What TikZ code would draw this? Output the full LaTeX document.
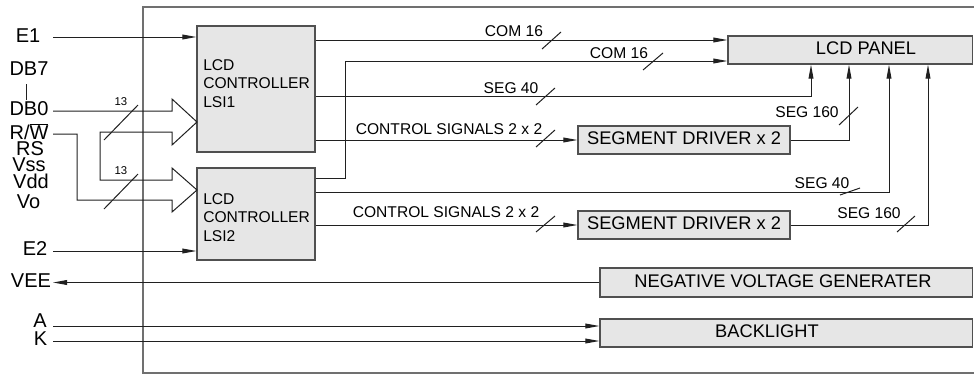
\documentclass[tikz,border=0pt]{standalone}
\usepackage{fontspec}
\setmainfont{Liberation Sans}
\usetikzlibrary{arrows.meta}
\definecolor{boxfill}{HTML}{E6E6E6}
\definecolor{boxline}{HTML}{505050}
\definecolor{wire}{HTML}{202020}
\definecolor{framec}{HTML}{707070}
\begin{document}
\begin{tikzpicture}[x=0.75pt,y=-0.75pt,
  lbl/.style={inner sep=0pt, text height=0.716em, text depth=0pt, anchor=center},
  pin/.style={lbl, font=\fontsize{15}{15}\selectfont},
  sig/.style={lbl, font=\fontsize{11.7}{12}\selectfont},
  tiny/.style={lbl, font=\fontsize{8.5}{9}\selectfont},
  big/.style={lbl, font=\fontsize{13.7}{14}\selectfont},
  blk/.style={draw=boxline, fill=boxfill, line width=0.9pt, inner sep=0pt},
  wirec/.style={draw=wire, line width=0.75pt},
  arr/.style={wirec, -{Triangle[length=10.5pt,width=3.6pt]}},
  slash/.style={draw=wire, line width=0.75pt},
  lsitext/.style={inner sep=0pt, anchor=west, align=left, font=\fontsize{11.7}{13.9}\selectfont}
]
\useasboundingbox (0,0) rectangle (974,375);

% outer frame
\draw[framec, line width=1.1pt] (985,7) -- (143,7) -- (143,373) -- (985,373);

% blocks
\node[blk, minimum width=118*0.75pt, minimum height=126*0.75pt] (lsi1) at (256,89) {};
\node[blk, minimum width=118*0.75pt, minimum height=92*0.75pt] (lsi2) at (256,214) {};
\node[lsitext] (t1) at (203,83.5) {LCD\\CONTROLLER\\LSI1};
\node[lsitext] (t2) at (203,217.5) {LCD\\CONTROLLER\\LSI2};
\node[blk, minimum width=244.5*0.75pt, minimum height=28*0.75pt] (panel) at (850.25,50) {};
\node[big] (paneltxt) at (866,50) {LCD PANEL};
\node[blk, big, minimum width=212*0.75pt, minimum height=28*0.75pt] (d1) at (684,140) {SEGMENT DRIVER x 2};
\node[blk, big, minimum width=212*0.75pt, minimum height=28*0.75pt] (d2) at (684,225) {SEGMENT DRIVER x 2};
\node[blk, minimum width=372.5*0.75pt, minimum height=29*0.75pt] (nvg) at (786.25,282.5) {};
\node[big] (nvgtxt) at (783,282.5) {NEGATIVE VOLTAGE GENERATER};
\node[blk, minimum width=372.5*0.75pt, minimum height=28*0.75pt] (bl) at (786.25,333) {};
\node[big] (bltxt) at (767,333) {BACKLIGHT};

% pin labels
\node[pin] (e1) at (28,38) {E1};
\node[pin] (db7) at (29,71) {DB7};
\node[pin] (db0) at (29,110.5) {DB0};
\node[pin] (rw) at (29,135) {R/$\overline{\mbox{W}}$};
\node[pin] (rs) at (30,151) {RS};
\node[pin] (vss) at (29,167) {Vss};
\node[pin] (vdd) at (31,183.5) {Vdd};
\node[pin] (vo) at (28.5,204) {Vo};
\node[pin] (e2) at (35,251) {E2};
\node[pin] (vee) at (31,282.5) {VEE};
\node[pin] (pa) at (40,323) {A};
\node[pin] (pk) at (40.5,341) {K};
\draw[wirec] (26,84) -- (26,100);

% pin wire ends
\coordinate (pE1) at (53,37);
\coordinate (pDB0) at (53,111);
\coordinate (pRW) at (53,134);
\coordinate (pE2) at (53,251);
\coordinate (pVEE) at (53,282.5);
\coordinate (pA) at (53,326);
\coordinate (pK) at (53,341);

\draw[arr] (pE1) -- (pE1 -| lsi1.west);
\draw[arr] (pE2) -- (pE2 -| lsi2.west);
\draw[arr] (nvg.west) -- (pVEE);
\draw[arr] (pA) -- (pA -| bl.west);
\draw[arr] (pK) -- (pK -| bl.west);

% hollow bus arrows
\draw[wirec, line join=miter] (pDB0) -- (172,111) -- (172,99) -- (197,122) -- (172,145) -- (172,132)
  -- (100,132) -- (100,180) -- (172,180) -- (172,168) -- (197,190) -- (172,212) -- (172,200)
  -- (77,200) -- (77,134) -- (pRW);
\draw[slash] (104,140) -- (138,105);
\draw[slash] (104,209) -- (138,174);
\node[tiny] (n13a) at (121,101) {13};
\node[tiny] (n13b) at (121,170) {13};

% level coordinates
\coordinate (yc1) at (0,40);
\coordinate (ya) at (0,178);
\coordinate (jog) at (345,61);
\coordinate (ts1) at (811,96);
\coordinate (ts2) at (849,140);
\coordinate (ts3) at (889,192);
\coordinate (ts4) at (928,225);

% LSI outputs
\draw[arr] (lsi1.east |- yc1) -- (panel.west |- yc1);
\draw[arr] (lsi2.east |- ya) -| (jog) -- (panel.west |- jog);
\draw[arr] (lsi1.east |- ts1) -| (ts1 |- panel.south);
\draw[arr] (lsi1.east |- d1.west) -- (d1.west);
\draw[arr] (d1.east) -| (ts2 |- panel.south);
\draw[arr] (lsi2.east |- ts3) -| (ts3 |- panel.south);
\draw[arr] (lsi2.east |- d2.west) -- (d2.west);
\draw[arr] (d2.east) -| (ts4 |- panel.south);

% slashes
\draw[slash] (542,49) -- (561,32);
\draw[slash] (643,70) -- (663,53);
\draw[slash] (536,105) -- (555,88);
\draw[slash] (536,147) -- (555,130);
\draw[slash] (839,125) -- (858,107);
\draw[slash] (840,195) -- (860,188);
\draw[slash] (536,232) -- (555,216);
\draw[slash] (897,232) -- (915,216);

% signal labels
\node[sig] (lc1) at (514,31.5) {COM 16};
\node[sig] (lc2) at (619,54) {COM 16};
\node[sig] (ls1) at (511,89) {SEG 40};
\node[sig] (lk1) at (449,129.5) {CONTROL SIGNALS 2 x 2};
\node[sig] (ls2) at (807,112.5) {SEG 160};
\node[sig] (ls3) at (822,184) {SEG 40};
\node[sig] (lk2) at (446,212.5) {CONTROL SIGNALS 2 x 2};
\node[sig] (ls4) at (869,214) {SEG 160};
\end{tikzpicture}
\end{document}
